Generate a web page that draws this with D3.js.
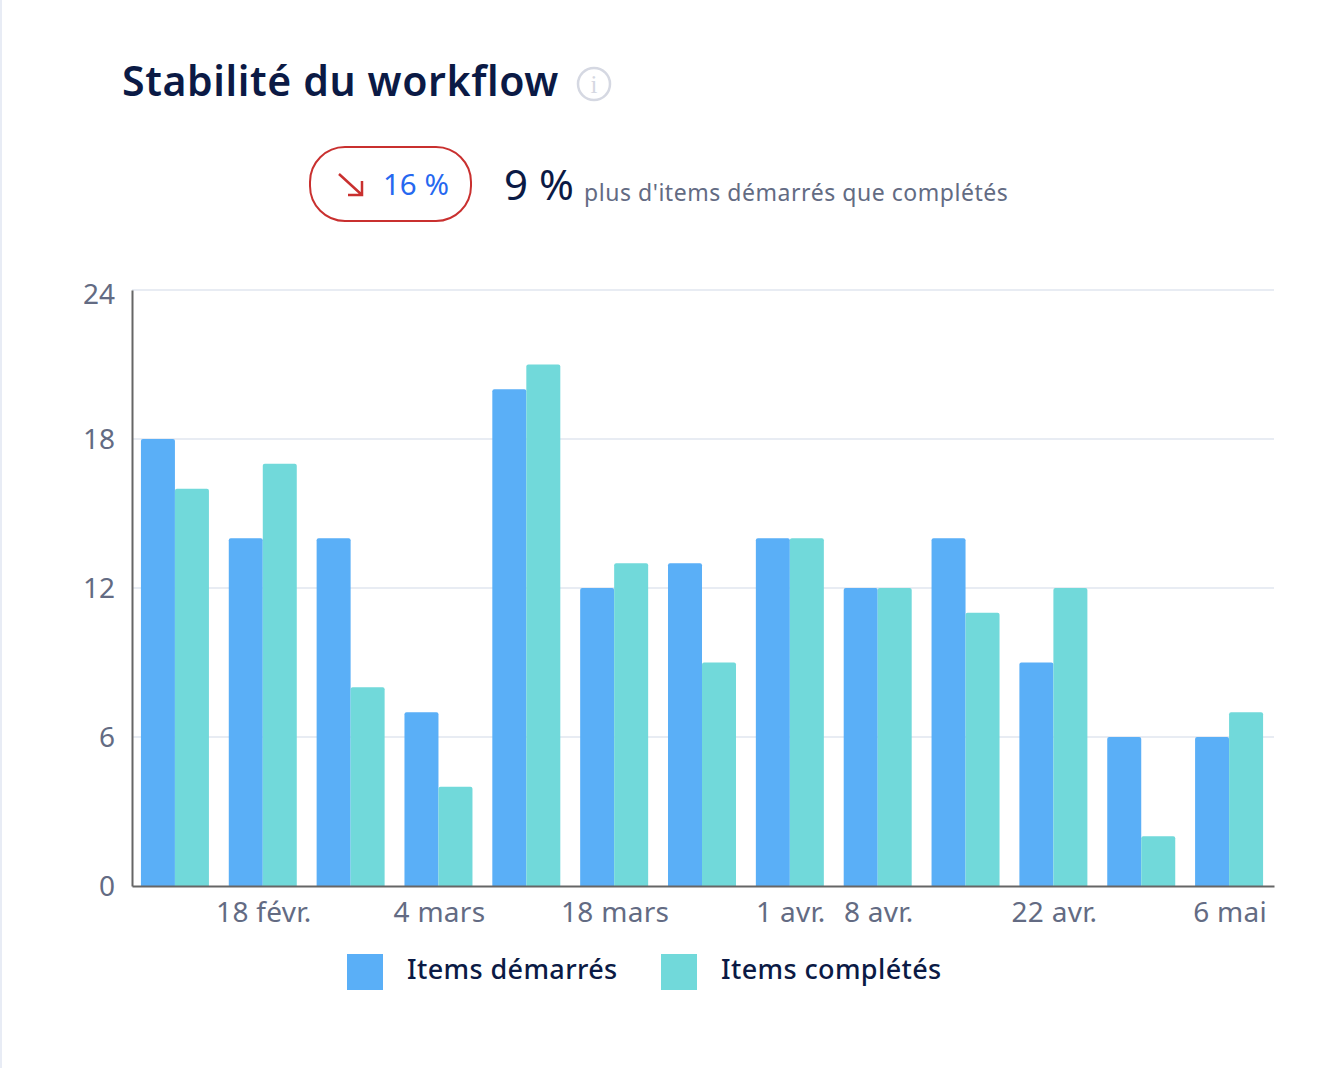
<!DOCTYPE html>
<html>
<head>
<meta charset="utf-8">
<script src="https://cdn.jsdelivr.net/npm/d3@7"></script>
<style>
  html, body { margin: 0; padding: 0; background: #fff; overflow: hidden; }
  svg { display: block; font-family: "Noto Sans", sans-serif; }
  .tick text { fill: #636b83; font-size: 28px; font-family: "Noto Sans", sans-serif; }
  .x-axis .tick text { letter-spacing: 0.3px; }
</style>
</head>
<body>
<script>
var weeks = ['11 févr.', '18 févr.', '25 févr.', '4 mars', '11 mars', '18 mars', '25 mars', '1 avr.', '8 avr.', '15 avr.', '22 avr.', '29 avr.', '6 mai']
var started = [18, 14, 14, 7, 20, 12, 13, 14, 12, 14, 9, 6, 6]
var completed = [16, 17, 8, 4, 21, 13, 9, 14, 12, 11, 12, 2, 7]
var shownWeeks = ['18 févr.', '4 mars', '18 mars', '1 avr.', '8 avr.', '22 avr.', '6 mai']
var yTicks = [0, 6, 12, 18, 24]
var seriesNames = ['Items démarrés', 'Items complétés']

var navy = '#0b1a45', grey = '#636b83', blue = '#5aafF7', teal = '#71d9da', red = '#c9302f'

var svg = d3.select('body').append('svg').attr('width', 1342).attr('height', 1068)

// left page edge
svg.append('rect').attr('width', 2).attr('height', 1068).attr('fill', '#e8ecf5')

// header
svg.append('text').attr('x', 122).attr('y', 96).attr('fill', navy)
  .style('font-size', '41px').style('font-weight', 600).style('letter-spacing', '0.62px').text('Stabilité du workflow')

var info = svg.append('g').attr('transform', 'translate(594,84)')
info.append('circle').attr('r', 16).attr('fill', 'none').attr('stroke', '#d5d8e2').attr('stroke-width', 2.5)
info.append('text').attr('text-anchor', 'middle').attr('y', 9).attr('fill', '#d5d8e2')
  .style('font-family', '"Liberation Serif", serif').style('font-size', '25px').text('i')

svg.append('rect').attr('x', 310).attr('y', 147).attr('width', 161).attr('height', 74).attr('rx', 35)
  .attr('fill', 'none').attr('stroke', red).attr('stroke-width', 2)
svg.append('path').attr('d', 'M339,174 L362,195 M362,181 L362,195 L348,195')
  .attr('fill', 'none').attr('stroke', red).attr('stroke-width', 2.5)
svg.append('text').attr('x', 383).attr('y', 195).attr('fill', '#2668f0').style('font-size', '29.5px').text('16 %')

svg.append('text').attr('x', 504).attr('y', 200).attr('fill', navy).style('font-size', '42px').text('9 %')
svg.append('text').attr('x', 584).attr('y', 201).attr('fill', grey).style('font-size', '23px')
  .style('letter-spacing', '0.54px').text("plus d'items démarrés que complétés")

// chart
var x = d3.scaleBand().domain(weeks).range([132, 1274]).paddingInner(0.226).paddingOuter(0.113).align(0.45)
var inner = d3.scaleBand().domain([0, 1]).range([0, x.bandwidth()])
var y = d3.scaleLinear().domain([0, 24]).range([886, 290])

var grid = svg.append('g')
grid.selectAll('line').data(yTicks.slice(1)).enter().append('line')
  .attr('x1', 132).attr('x2', 1274)
  .attr('y1', function(d) { return y(d) }).attr('y2', function(d) { return y(d) })
  .attr('stroke', '#e8ecf3').attr('stroke-width', 2)

var bars = [started, completed]
var colors = [blue, teal]
bars.forEach(function(values, s) {
  svg.append('g').selectAll('path').data(values).enter().append('path')
    .attr('fill', colors[s])
    .attr('d', function(d, i) {
      var x0 = x(weeks[i]) + inner(s), w = inner.bandwidth(), top = y(d), r = 2
      return 'M' + x0 + ',' + y(0) + 'V' + (top + r) + 'Q' + x0 + ',' + top + ' ' + (x0 + r) + ',' + top +
        'H' + (x0 + w - r) + 'Q' + (x0 + w) + ',' + top + ' ' + (x0 + w) + ',' + (top + r) + 'V' + y(0) + 'Z'
    })
})

var yAxis = svg.append('g').attr('transform', 'translate(132,0)')
  .call(d3.axisLeft(y).tickValues(yTicks).tickSize(0).tickPadding(17))
yAxis.select('.domain').attr('stroke', '#666').attr('stroke-width', 2)
yAxis.selectAll('.tick text').attr('dy', '0.33em')
// top label sits a little under its gridline in the original
yAxis.selectAll('.tick').filter(function(d) { return d == 24 }).select('text').attr('dy', '0.47em')

var xAxis = svg.append('g').attr('class', 'x-axis').attr('transform', 'translate(0,886)')
  .call(d3.axisBottom(x).tickValues(shownWeeks).tickSize(0).tickPadding(16))
xAxis.select('.domain').attr('stroke', '#666').attr('stroke-width', 2)
xAxis.selectAll('.tick text').attr('dx', 1)

// legend
var legendX = [347, 661]
seriesNames.forEach(function(name, i) {
  svg.append('rect').attr('x', legendX[i]).attr('y', 954).attr('width', 36).attr('height', 36).attr('fill', colors[i])
  svg.append('text').attr('x', legendX[i] + 60).attr('y', 979).attr('fill', navy)
    .style('font-size', '27px').style('font-weight', 500).style('letter-spacing', '0.38px').text(name)
})
</script>
</body>
</html>
